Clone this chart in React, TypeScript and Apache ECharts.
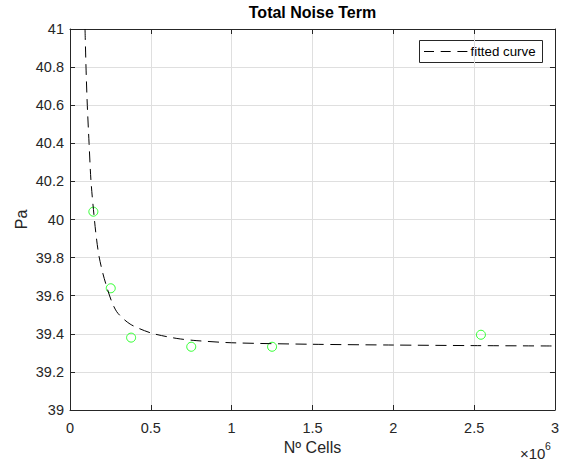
import { useEffect, useRef } from 'react';
import * as echarts from 'echarts';

// Measured data points (Nº cells, Pa)
const cellsX = [144500, 252000, 378000, 750000, 1250000, 2542000];
const paY = [40.041, 39.639, 39.38, 39.332, 39.332, 39.395];

// Fitted curve
const fitX = [93000, 99000, 107000, 118000, 130000, 151000, 165000, 180000, 203000, 227000, 258000, 289000, 331000, 372000, 424000, 506000, 599000, 682000, 785000, 1000000, 1500000, 2000000, 2500000, 3000000];
const fitY = [41.0, 40.8, 40.6, 40.4, 40.2, 40.0, 39.892, 39.805, 39.718, 39.647, 39.569, 39.516, 39.478, 39.451, 39.429, 39.403, 39.385, 39.373, 39.364, 39.353, 39.345, 39.341, 39.338, 39.336];

const legendLabel = 'fitted curve';

const FONT = '"Liberation Sans", Arial, Helvetica, sans-serif';
const AX = '#262626';
const GRIDC = '#dfdfdf';
const DASH = [11, 6.5];

export default function App() {
  const ref = useRef<HTMLDivElement>(null);
  useEffect(() => {
    if (!ref.current) return;
    const chart = echarts.init(ref.current, undefined, { renderer: 'svg' });
    const scatterData = cellsX.map((x, i) => [x, paY[i]]);
    const fitData = fitX.map((x, i) => [x, fitY[i]]);
    const baseX = {
      type: 'value' as const,
      min: 0,
      max: 3000000,
      interval: 500000,
    };
    const baseY = {
      type: 'value' as const,
      min: 39,
      max: 41,
      interval: 0.2,
    };
    chart.setOption({
      animation: false,
      backgroundColor: '#ffffff',
      textStyle: { fontFamily: FONT },
      grid: { left: 70, right: 7, top: 29, bottom: 51, containLabel: false },
      xAxis: [
        {
          ...baseX,
          position: 'bottom',
          name: 'Nº Cells',
          nameLocation: 'middle',
          nameGap: 29,
          nameMoveOverlap: false,
          nameTextStyle: { fontFamily: FONT, fontSize: 16, color: AX },
          axisLine: { show: true, onZero: false, lineStyle: { color: AX, width: 1 } },
          axisTick: { show: true, inside: true, length: 5, lineStyle: { color: AX } },
          axisLabel: {
            color: AX,
            fontFamily: FONT,
            fontSize: 14.5,
            margin: 10,
            formatter: (v: number) => String(v / 1e6),
          },
          splitLine: { show: true, lineStyle: { color: GRIDC, width: 1 } },
        },
        {
          ...baseX,
          position: 'top',
          axisLine: { show: true, onZero: false, lineStyle: { color: AX, width: 1 } },
          axisTick: { show: true, inside: true, length: 5, lineStyle: { color: AX } },
          axisLabel: { show: false },
          splitLine: { show: false },
        },
      ],
      yAxis: [
        {
          ...baseY,
          position: 'left',
          name: 'Pa',
          nameLocation: 'middle',
          nameGap: 41,
          nameMoveOverlap: false,
          nameTextStyle: { fontFamily: FONT, fontSize: 16, color: AX },
          axisLine: { show: true, onZero: false, lineStyle: { color: AX, width: 1 } },
          axisTick: { show: true, inside: true, length: 5, lineStyle: { color: AX } },
          axisLabel: { color: AX, fontFamily: FONT, fontSize: 14.5, margin: 6 },
          splitLine: { show: true, lineStyle: { color: GRIDC, width: 1 } },
        },
        {
          ...baseY,
          position: 'right',
          axisLine: { show: true, onZero: false, lineStyle: { color: AX, width: 1 } },
          axisTick: { show: true, inside: true, length: 5, lineStyle: { color: AX } },
          axisLabel: { show: false },
          splitLine: { show: false },
        },
      ],
      series: [
        {
          name: 'data',
          type: 'scatter',
          data: scatterData,
          symbol: 'circle',
          symbolSize: 9,
          itemStyle: { color: 'rgba(0,0,0,0)', borderColor: '#00ff00', borderWidth: 1 },
          z: 3,
        },
        {
          name: legendLabel,
          type: 'line',
          data: fitData,
          smooth: 0.3,
          showSymbol: false,
          symbol: 'none',
          clip: true,
          lineStyle: { color: '#000000', width: 1, type: DASH },
          z: 4,
        },
      ],
      graphic: [
        {
          type: 'text',
          x: 312.5,
          y: 12,
          style: {
            text: 'Total Noise Term',
            fontFamily: FONT,
            fontSize: 16,
            fontWeight: 'bold',
            fill: '#000',
            textAlign: 'center',
            textVerticalAlign: 'middle',
          },
        },
        {
          type: 'text',
          x: 520,
          y: 453,
          style: {
            text: '×10',
            fontFamily: FONT,
            fontSize: 15,
            fill: AX,
            textAlign: 'left',
            textVerticalAlign: 'middle',
          },
        },
        {
          type: 'text',
          x: 545,
          y: 446,
          style: {
            text: '6',
            fontFamily: FONT,
            fontSize: 10.5,
            fill: AX,
            textAlign: 'left',
            textVerticalAlign: 'middle',
          },
        },
        {
          type: 'group',
          z: 10,
          children: [
            {
              type: 'rect',
              shape: { x: 419.5, y: 40.5, width: 123, height: 22 },
              style: { fill: '#ffffff', stroke: AX, lineWidth: 1 },
            },
            {
              type: 'line',
              shape: { x1: 424, y1: 51.5, x2: 467.5, y2: 51.5 },
              style: { stroke: '#000000', lineWidth: 1, lineDash: [10, 6.7] },
            },
            {
              type: 'text',
              x: 470.5,
              y: 51.5,
              style: {
                text: legendLabel,
                fontFamily: FONT,
                fontSize: 13.3,
                fill: '#000',
                textAlign: 'left',
                textVerticalAlign: 'middle',
              },
            },
          ],
        },
      ],
    });
    return () => chart.dispose();
  }, []);
  return <div ref={ref} style={{ width: 562, height: 461, position: 'absolute', left: 0, top: 0 }} />;
}
